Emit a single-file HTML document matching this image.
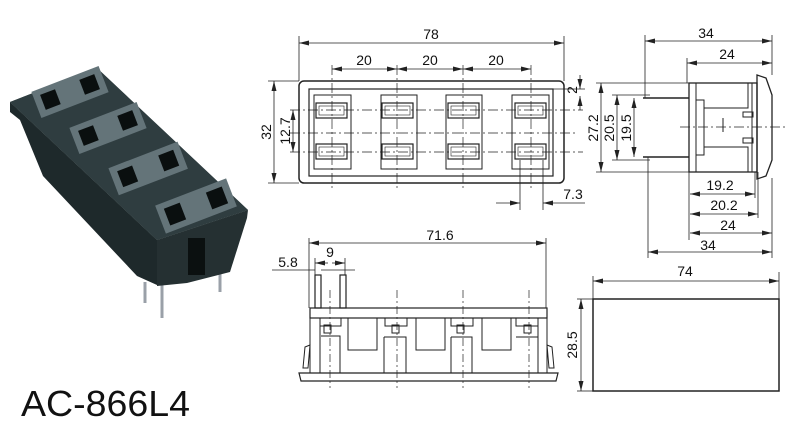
<!DOCTYPE html>
<html><head><meta charset="utf-8"><style>
html,body{margin:0;padding:0;background:#fff;}
svg{display:block;font-family:"Liberation Sans",sans-serif;}
</style></head><body>
<svg width="800" height="422" viewBox="0 0 800 422" xmlns="http://www.w3.org/2000/svg">
<defs>
<marker id="a" viewBox="0 0 10 6" refX="10" refY="3" markerWidth="10" markerHeight="6" orient="auto-start-reverse" markerUnits="userSpaceOnUse"><path d="M0,0.5 L10,3 L0,5.5Z" fill="#222"/></marker>
</defs>

<!-- Photo -->
<g>
<line x1="145" y1="282" x2="145" y2="303" stroke="#9aa0a8" stroke-width="3"/>
<line x1="162" y1="285" x2="162" y2="318" stroke="#9aa0a8" stroke-width="3"/>
<line x1="220" y1="272" x2="220" y2="292" stroke="#9aa0a8" stroke-width="3"/>
<polygon points="10,102 157,240 157,285 137,276 43,176 20,120 10,112" fill="#1e292b"/>
<polygon points="157,240 248,210 247,218 230,272 187,283 157,286" fill="#253032"/>
<polygon points="10,102 97,68 248,210 157,240" fill="#34423f"/>
<polygon points="10,102 97,68 248,210 157,240" fill="#2f3d40"/>
<rect x="188" y="238" width="17" height="37" fill="#0b1010"/>
<g transform="translate(70,92) rotate(-21)"><rect x="-36" y="-14" width="72" height="28" fill="#647479"/><rect x="-29" y="-8" width="16" height="16" fill="#0a0f0f"/><rect x="13" y="-8" width="16" height="16" fill="#0a0f0f"/></g>
<g transform="translate(108,128) rotate(-21)"><rect x="-36" y="-14" width="72" height="28" fill="#647479"/><rect x="-29" y="-8" width="16" height="16" fill="#0a0f0f"/><rect x="13" y="-8" width="16" height="16" fill="#0a0f0f"/></g>
<g transform="translate(148,168) rotate(-21)"><rect x="-37" y="-14" width="74" height="29" fill="#647479"/><rect x="-30" y="-8" width="16" height="17" fill="#0a0f0f"/><rect x="14" y="-8" width="16" height="17" fill="#0a0f0f"/></g>
<g transform="translate(196,206) rotate(-21)"><rect x="-38" y="-15" width="76" height="30" fill="#647479"/><rect x="-31" y="-9" width="17" height="18" fill="#0a0f0f"/><rect x="14" y="-9" width="17" height="18" fill="#0a0f0f"/></g>
</g>
<text x="21" y="416" font-size="36" fill="#111" textLength="169" lengthAdjust="spacingAndGlyphs">AC-866L4</text>

<g stroke="#222" fill="none" stroke-width="1">
<!-- Top view -->
<rect x="299" y="81" width="265" height="102" rx="5" stroke-width="1.5"/>
<rect x="309" y="89" width="244" height="87" stroke-width="1.2"/>
<rect x="314" y="95" width="37" height="74"/><rect x="381" y="95" width="36" height="74"/><rect x="446" y="95" width="36" height="74"/><rect x="512" y="95" width="37" height="74"/>
<g stroke-width="1.2">
<rect x="316" y="103" width="31" height="15"/><rect x="316" y="144" width="31" height="15"/>
<rect x="382" y="103" width="31" height="15"/><rect x="382" y="144" width="31" height="15"/>
<rect x="448" y="103" width="31" height="15"/><rect x="448" y="144" width="31" height="15"/>
<rect x="515" y="103" width="31" height="15"/><rect x="515" y="144" width="31" height="15"/>
</g>
<g stroke-width="0.6"><rect x="319" y="106" width="25" height="9"/><rect x="319" y="147" width="25" height="9"/><rect x="385" y="106" width="25" height="9"/><rect x="385" y="147" width="25" height="9"/><rect x="451" y="106" width="25" height="9"/><rect x="451" y="147" width="25" height="9"/><rect x="518" y="106" width="25" height="9"/><rect x="518" y="147" width="25" height="9"/></g>
<g stroke-dasharray="10,3,2,3" stroke-width="0.7">
<line x1="290" y1="110" x2="583" y2="110"/><line x1="290" y1="133" x2="575" y2="133"/><line x1="290" y1="152" x2="583" y2="152"/>
<line x1="332" y1="65" x2="332" y2="190"/><line x1="397" y1="65" x2="397" y2="190"/><line x1="463" y1="65" x2="463" y2="190"/><line x1="531" y1="65" x2="531" y2="190"/>
</g>
<g stroke-width="0.8">
<line x1="299" y1="36" x2="299" y2="81"/><line x1="564" y1="36" x2="564" y2="81"/>
<line x1="299" y1="43" x2="564" y2="43" marker-start="url(#a)" marker-end="url(#a)"/>
<line x1="332" y1="69" x2="397" y2="69" marker-start="url(#a)" marker-end="url(#a)"/>
<line x1="397" y1="69" x2="463" y2="69" marker-start="url(#a)" marker-end="url(#a)"/>
<line x1="463" y1="69" x2="531" y2="69" marker-start="url(#a)" marker-end="url(#a)"/>
<line x1="268" y1="81" x2="299" y2="81"/><line x1="268" y1="183" x2="299" y2="183"/>
<line x1="274" y1="81" x2="274" y2="183" marker-start="url(#a)" marker-end="url(#a)"/>
<line x1="293" y1="110" x2="293" y2="152" marker-start="url(#a)" marker-end="url(#a)"/>
<line x1="580" y1="75" x2="580" y2="89" marker-end="url(#a)"/><line x1="580" y1="110" x2="580" y2="96" marker-end="url(#a)"/>
<line x1="553" y1="89" x2="585" y2="89"/>
<line x1="520" y1="160" x2="520" y2="210"/><line x1="543" y1="160" x2="543" y2="210"/>
<line x1="496" y1="203" x2="520" y2="203" marker-end="url(#a)"/><line x1="585" y1="203" x2="543" y2="203" marker-end="url(#a)"/>
</g>

<!-- Side view -->
<rect x="689" y="83" width="68" height="89" stroke-width="1.3"/>
<path d="M757,75 L766,78 L772,95 L772,160 L766,176 L757,179 Z" stroke-width="1.3"/>
<line x1="696" y1="83" x2="696" y2="172"/>
<path d="M696,100 L704,100 L704,108 L748,108 L748,83 M696,155 L704,155 L704,147 L748,147 L748,172" />
<line x1="704" y1="108" x2="704" y2="147"/>
<line x1="752" y1="83" x2="752" y2="172"/>
<rect x="743" y="112" width="10" height="5"/><rect x="743" y="138" width="10" height="5"/>
<line x1="643" y1="98" x2="689" y2="98" stroke-width="1.5"/><line x1="643" y1="157" x2="689" y2="157" stroke-width="1.5"/>
<line x1="723" y1="118" x2="723" y2="132"/>
<line x1="680" y1="127" x2="785" y2="127" stroke-dasharray="10,3,2,3" stroke-width="0.7"/>
<g stroke-width="0.8">
<line x1="645" y1="35" x2="645" y2="98"/><line x1="772" y1="35" x2="772" y2="75"/>
<line x1="645" y1="41" x2="772" y2="41" marker-start="url(#a)" marker-end="url(#a)"/>
<line x1="687" y1="58" x2="687" y2="83"/>
<line x1="687" y1="63" x2="772" y2="63" marker-start="url(#a)" marker-end="url(#a)"/>
<line x1="596" y1="83" x2="689" y2="83"/><line x1="596" y1="172" x2="689" y2="172"/>
<line x1="612" y1="95" x2="650" y2="95"/><line x1="612" y1="160" x2="650" y2="160"/>
<line x1="601" y1="83" x2="601" y2="172" marker-start="url(#a)" marker-end="url(#a)"/>
<line x1="617" y1="95" x2="617" y2="160" marker-start="url(#a)" marker-end="url(#a)"/>
<line x1="634" y1="98" x2="634" y2="157" marker-start="url(#a)" marker-end="url(#a)"/>
<line x1="689" y1="172" x2="689" y2="240"/><line x1="648" y1="157" x2="648" y2="258"/>
<line x1="755" y1="172" x2="755" y2="198"/><line x1="758" y1="172" x2="758" y2="218"/><line x1="772" y1="178" x2="772" y2="258"/>
<line x1="690" y1="194" x2="755" y2="194" marker-start="url(#a)" marker-end="url(#a)"/>
<line x1="690" y1="214" x2="758" y2="214" marker-start="url(#a)" marker-end="url(#a)"/>
<line x1="690" y1="233" x2="772" y2="233" marker-start="url(#a)" marker-end="url(#a)"/>
<line x1="648" y1="252" x2="772" y2="252" marker-start="url(#a)" marker-end="url(#a)"/>
</g>

<!-- Front view -->
<rect x="315" y="275" width="6" height="33" stroke-width="1.2"/><rect x="340" y="275" width="6" height="33" stroke-width="1.2"/>
<rect x="310" y="308" width="237" height="10" stroke-width="1.2"/>
<path d="M299,373 L558,373 L556,381 L301,381 Z" stroke-width="1.2"/>
<line x1="310" y1="318" x2="310" y2="373"/><line x1="547" y1="318" x2="547" y2="373"/>
<line x1="320" y1="318" x2="320" y2="373"/><line x1="538" y1="318" x2="538" y2="373"/>
<path d="M348,318 L348,350 L377,350 L377,318 M416,318 L416,350 L445,350 L445,318 M482,318 L482,350 L511,350 L511,318"/>
<path d="M321,336 L340,336 L340,373 M384,337 L406,337 L406,373 M384,337 L384,373 M451,337 L472,337 L472,373 M451,337 L451,373 M516,337 L538,337" />
<path d="M320,318 L320,326 L341,326 L341,318 M385,318 L385,326 L407,326 L407,318 M451,318 L451,326 L473,326 L473,318 M516,318 L516,326 L538,326 L538,318"/>
<rect x="324" y="325" width="7" height="8"/><rect x="392" y="325" width="7" height="8"/><rect x="457" y="325" width="7" height="8"/><rect x="524" y="325" width="7" height="8"/>
<path d="M310,345 L305,347 L303,368 L308,368 Z M547,345 L552,347 L554,368 L549,368 Z"/>
<g stroke-dasharray="8,3,2,3" stroke-width="0.7"><line x1="330" y1="290" x2="330" y2="388"/><line x1="397" y1="290" x2="397" y2="388"/><line x1="463" y1="290" x2="463" y2="388"/><line x1="529" y1="290" x2="529" y2="388"/></g>
<g stroke-width="0.8">
<line x1="309" y1="238" x2="309" y2="308"/><line x1="546" y1="238" x2="546" y2="308"/>
<line x1="309" y1="243" x2="546" y2="243" marker-start="url(#a)" marker-end="url(#a)"/>
<line x1="315" y1="258" x2="315" y2="275"/><line x1="345" y1="258" x2="345" y2="275"/>
<line x1="328" y1="263" x2="315" y2="263" marker-end="url(#a)"/><line x1="332" y1="263" x2="345" y2="263" marker-end="url(#a)"/>
<line x1="272" y1="270" x2="315" y2="270"/><line x1="321" y1="270" x2="355" y2="270"/>
</g>

<!-- Right box -->
<rect x="593" y="299" width="186" height="92" stroke-width="1.5"/>
<g stroke-width="0.8">
<line x1="593" y1="276" x2="593" y2="299"/><line x1="779" y1="272" x2="779" y2="299"/>
<line x1="593" y1="281" x2="779" y2="281" marker-start="url(#a)" marker-end="url(#a)"/>
<line x1="577" y1="299" x2="593" y2="299"/><line x1="577" y1="391" x2="593" y2="391"/>
<line x1="581" y1="299" x2="581" y2="391" marker-start="url(#a)" marker-end="url(#a)"/>
</g>
</g>

<g fill="#111" font-size="14" text-anchor="middle">
<text x="431" y="39">78</text>
<text x="364" y="65">20</text><text x="430" y="65">20</text><text x="496" y="65">20</text>
<text transform="translate(271,132) rotate(-90)">32</text>
<text transform="translate(290,131) rotate(-90)">12.7</text>
<text transform="translate(577,90) rotate(-90)">2</text>
<text transform="translate(598,128) rotate(-90)">27.2</text>
<text x="573" y="199">7.3</text>
<text x="706" y="38">34</text><text x="727" y="59">24</text>
<text transform="translate(614,128) rotate(-90)">20.5</text>
<text transform="translate(631,128) rotate(-90)">19.5</text>
<text x="720" y="190">19.2</text><text x="724" y="210">20.2</text><text x="728" y="230">24</text><text x="708" y="250">34</text>
<text x="440" y="240">71.6</text><text x="330" y="257">9</text><text x="288" y="267">5.8</text>
<text x="685" y="276">74</text>
<text transform="translate(577,345) rotate(-90)">28.5</text>
</g>
</svg>
</body></html>
